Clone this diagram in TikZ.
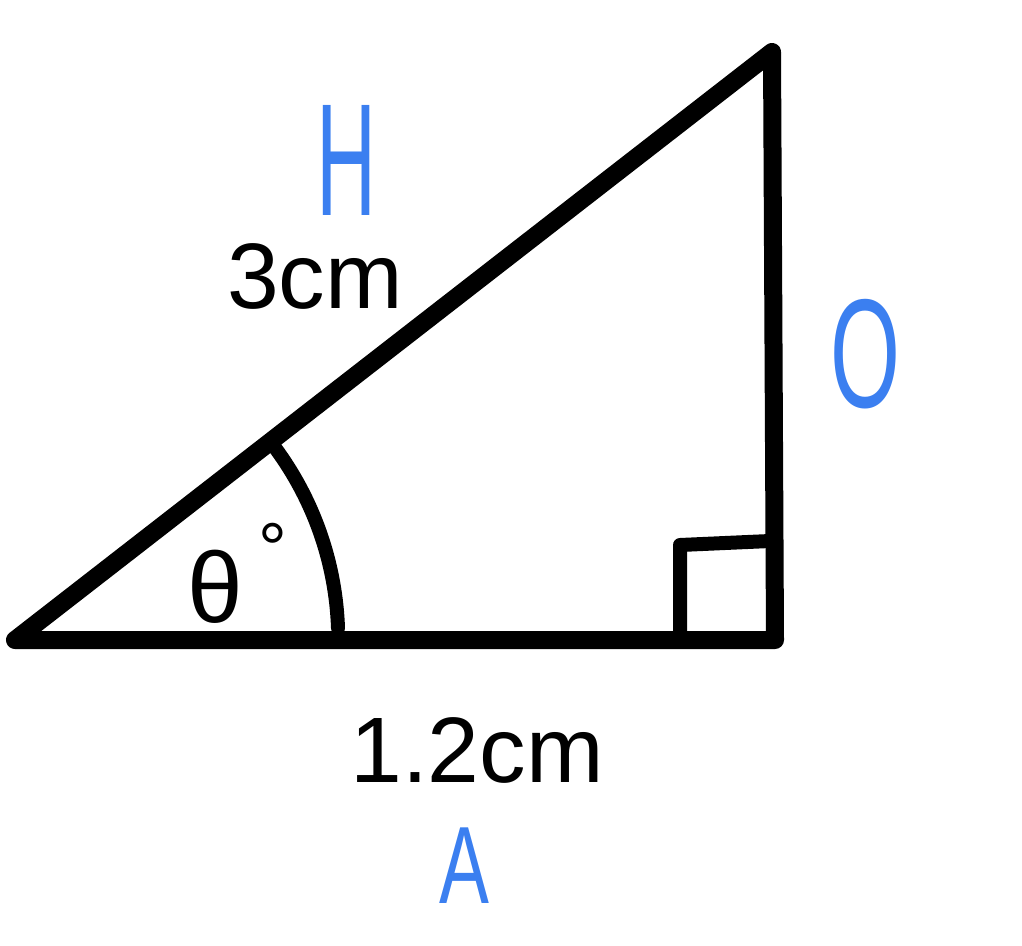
\documentclass[tikz,border=0pt]{standalone}
\usepackage{fontspec}
\setmainfont{Liberation Sans}
\definecolor{hblue}{HTML}{3B7FF0}
\begin{document}
\begin{tikzpicture}[x=1pt,y=-1pt,
  edge/.style={line width=18pt,line cap=round,line join=round},
  thin edge/.style={line width=14pt,line cap=round,line join=round},
  blk/.style={inner sep=0pt,font=\fontsize{93}{95}\selectfont},
  blu/.style={inner sep=0pt,text=hblue}]
\useasboundingbox (0,0) rectangle (1022,945);
\coordinate (L) at (15,640);
\coordinate (R) at (775,640);
\coordinate (T) at (772,52);
\draw[edge] (L) -- (R) -- (T) -- cycle;
\coordinate (s1) at (680,640);
\coordinate (s2) at (680,545);
\coordinate (s3) at (770,541);
\draw[thin edge] (s1) -- (s2) -- (s3);
\coordinate (a1) at (338,628);
\draw[thin edge] (a1) arc[start angle=-2,end angle=-37,radius=322];
\node[blk] (len3) at (315,276) {3cm};
\node[blk] (len12) at (477,750) {1.2cm};
\node[blk,font=\fontsize{100}{100}\selectfont] (theta) at (215,587) {θ};
\node[blk,font=\fontsize{72}{72}\selectfont] (deg) at (273,548) {°};
\node[blu,font=\fontsize{160}{160}\selectfont,xscale=0.52] (H) at (347,160) {H};
\node[blu,font=\fontsize{155}{155}\selectfont,xscale=0.58] (O) at (865,354) {O};
\node[blu,font=\fontsize{110}{110}\selectfont,xscale=0.68] (A) at (464,866) {A};
\end{tikzpicture}
\end{document}
